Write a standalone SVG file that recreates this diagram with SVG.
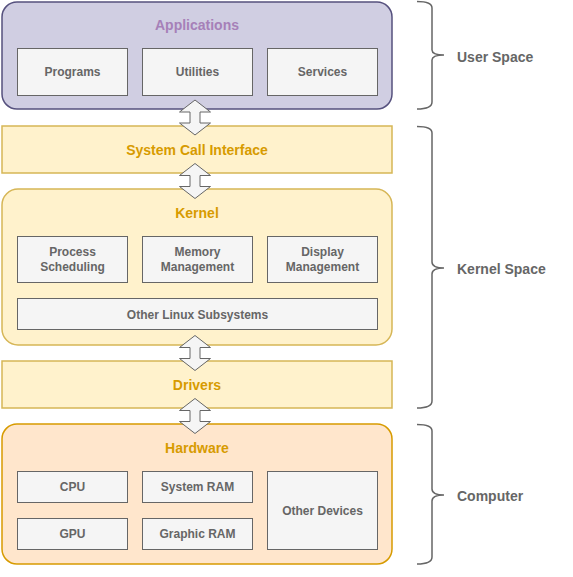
<svg xmlns="http://www.w3.org/2000/svg" width="573" height="577" viewBox="0 0 573 577">
<style>
text{font-family:"Liberation Sans",Arial,Helvetica,sans-serif;font-weight:bold;text-anchor:middle;dominant-baseline:central}
.sub{fill:#f5f5f5;stroke:#666;stroke-width:1}
.sl{font-size:12px;fill:#666}
.title{font-size:14px;fill:#d79b00}
.yel{fill:#fff2cc;stroke:#d6b656;stroke-width:1.5}
.arrow{fill:#f5f5f5;stroke:#666;stroke-width:1;stroke-linejoin:miter}
.brace{fill:none;stroke:#666;stroke-width:1.5}
.bl{font-size:14px;fill:#666;text-anchor:start}
</style>
<defs>
<polygon id="dbl" class="arrow" points="0,0 15.5,12 5,12 5,23 15.5,23 0,35 -15.5,23 -5,23 -5,12 -15.5,12"/>
</defs>
<g id="applications">
<rect x="2" y="2" width="390" height="107" rx="15" fill="#d0cee2" stroke="#56517e" stroke-width="1.5"/>
<text x="197" y="25" font-size="14px" fill="#a680b8">Applications</text>
</g>
<g id="programs"><rect class="sub" x="17.5" y="48.5" width="110" height="47"/><text class="sl" x="72.5" y="72">Programs</text></g>
<g id="utilities"><rect class="sub" x="142.5" y="48.5" width="110" height="47"/><text class="sl" x="197.5" y="72">Utilities</text></g>
<g id="services"><rect class="sub" x="267.5" y="48.5" width="110" height="47"/><text class="sl" x="322.5" y="72">Services</text></g>

<g id="sci">
<rect class="yel" x="2" y="126" width="390" height="47"/>
<text class="title" x="197" y="150">System Call Interface</text>
</g>

<g id="kernel">
<rect class="yel" x="2" y="189" width="390" height="156" rx="16"/>
<text class="title" x="197" y="213">Kernel</text>
</g>
<g id="process"><rect class="sub" x="17.5" y="236.5" width="110" height="46"/><text class="sl" x="72.5" y="252">Process</text><text class="sl" x="72.5" y="267">Scheduling</text></g>
<g id="memory"><rect class="sub" x="142.5" y="236.5" width="110" height="46"/><text class="sl" x="197.5" y="252">Memory</text><text class="sl" x="197.5" y="267">Management</text></g>
<g id="display"><rect class="sub" x="267.5" y="236.5" width="110" height="46"/><text class="sl" x="322.5" y="252">Display</text><text class="sl" x="322.5" y="267">Management</text></g>
<g id="other-linux"><rect class="sub" x="17.5" y="298.5" width="360" height="31"/><text class="sl" x="197.5" y="314.5">Other Linux Subsystems</text></g>

<g id="drivers">
<rect class="yel" x="2" y="361" width="390" height="47"/>
<text class="title" x="197" y="385">Drivers</text>
</g>

<g id="hardware">
<rect x="2" y="424" width="390" height="140" rx="15" fill="#ffe6cc" stroke="#d79b00" stroke-width="1.5"/>
<text class="title" x="197" y="448">Hardware</text>
</g>
<g id="cpu"><rect class="sub" x="17.5" y="471.5" width="110" height="31"/><text class="sl" x="72.5" y="487">CPU</text></g>
<g id="sysram"><rect class="sub" x="142.5" y="471.5" width="110" height="31"/><text class="sl" x="197.5" y="487">System RAM</text></g>
<g id="gpu"><rect class="sub" x="17.5" y="518.5" width="110" height="31"/><text class="sl" x="72.5" y="534">GPU</text></g>
<g id="graphram"><rect class="sub" x="142.5" y="518.5" width="110" height="31"/><text class="sl" x="197.5" y="534">Graphic RAM</text></g>
<g id="otherdev"><rect class="sub" x="267.5" y="471.5" width="110" height="78"/><text class="sl" x="322.5" y="510.5">Other Devices</text></g>

<g id="connectors">
<use href="#dbl" x="195" y="100"/>
<use href="#dbl" x="195" y="163.5"/>
<use href="#dbl" x="195" y="335.5"/>
<use href="#dbl" x="195" y="398.5"/>
</g>

<g id="user-space">
<path class="brace" d="M417,1.5 Q432,1.5 432,8 L432,50 Q432,55 444,55 Q432,55 432,60 L432,102 Q432,109 417,109"/>
<text class="bl" x="457" y="57">User Space</text>
</g>
<g id="kernel-space">
<path class="brace" d="M417,126.5 Q432,126.5 432,133 L432,262 Q432,268 444,268 Q432,268 432,274 L432,401 Q432,408 417,408"/>
<text class="bl" x="457" y="269">Kernel Space</text>
</g>
<g id="computer">
<path class="brace" d="M417,424.5 Q432,424.5 432,431 L432,489 Q432,495 444,495 Q432,495 432,501 L432,557 Q432,564 417,564"/>
<text class="bl" x="457" y="496">Computer</text>
</g>
</svg>
